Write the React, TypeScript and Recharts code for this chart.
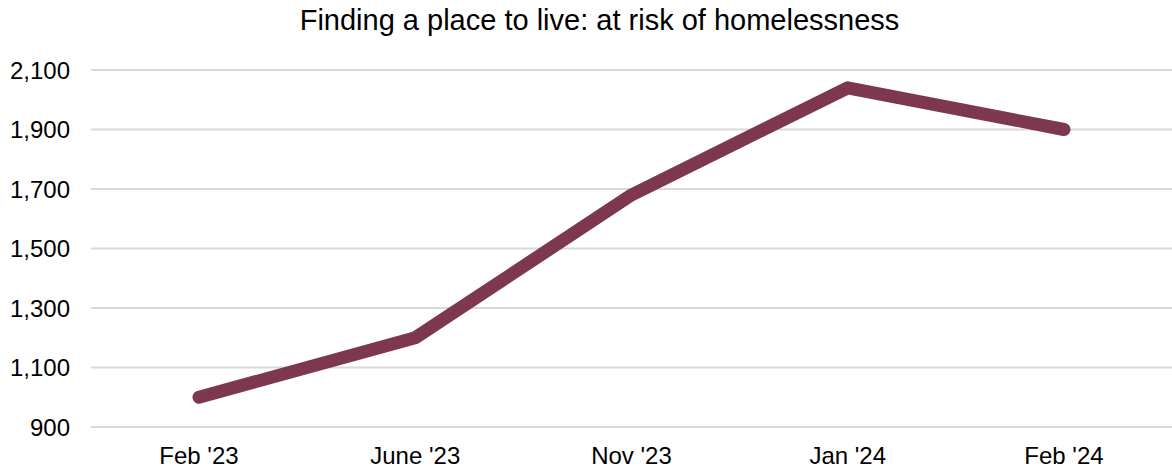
import React from "react";
import { LineChart, Line, XAxis, YAxis, CartesianGrid } from "recharts";

const categories = ["Feb '23", "June '23", "Nov '23", "Jan '24", "Feb '24"];
const atRisk = [1000, 1200, 1680, 2040, 1900];
const yTicks = [900, 1100, 1300, 1500, 1700, 1900, 2100];

const data = categories.map((c, i) => ({ name: c, value: atRisk[i] }));

const fmt = (v: number) => v.toLocaleString("en-US");

export default function App() {
  return (
    <div
      style={{
        position: "absolute",
        left: 0,
        top: 0,
        width: 1172,
        height: 471,
        background: "#fff",
        fontFamily: "'Liberation Sans', Arial, sans-serif",
      }}
    >
      <div
        style={{
          position: "absolute",
          left: 27,
          top: 2,
          width: 1145,
          textAlign: "center",
          fontSize: 29,
          color: "#000",
          lineHeight: "36px",
        }}
      >
        Finding a place to live: at risk of homelessness
      </div>
      <LineChart
        width={1172}
        height={471}
        data={data}
        margin={{ top: 70, right: 0, bottom: 0, left: 0 }}
      >
        <CartesianGrid vertical={false} stroke="#d9d9d9" strokeWidth={2} />
        <XAxis
          dataKey="name"
          axisLine={false}
          tickLine={false}
          tickSize={0}
          tickMargin={20}
          height={44}
          interval={0}
          padding={{ left: 108, right: 108 }}
          tick={{ fill: "#000", fontSize: 24, fontFamily: "'Liberation Sans', Arial, sans-serif" }}
        />
        <YAxis
          domain={[900, 2100]}
          ticks={yTicks}
          interval={0}
          axisLine={false}
          tickLine={false}
          tickSize={0}
          tickMargin={21}
          width={91}
          tickFormatter={fmt}
          tick={{ fill: "#000", fontSize: 24, fontFamily: "'Liberation Sans', Arial, sans-serif" }}
        />
        <Line
          type="linear"
          dataKey="value"
          stroke="#7d374f"
          strokeWidth={13}
          strokeLinecap="round"
          strokeLinejoin="round"
          dot={false}
          activeDot={false}
          isAnimationActive={false}
        />
      </LineChart>
    </div>
  );
}
